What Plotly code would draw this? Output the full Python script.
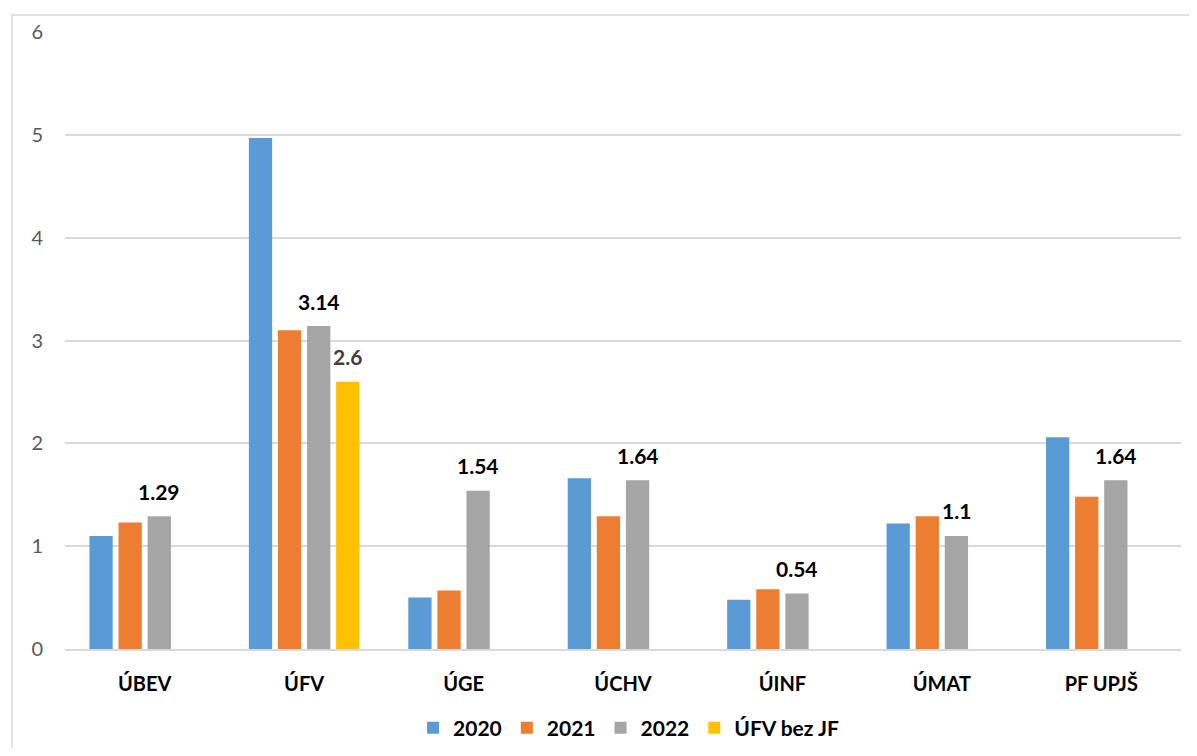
import plotly.graph_objects as go

categories = ["ÚBEV", "ÚFV", "ÚGE", "ÚCHV", "ÚINF", "ÚMAT", "PF UPJŠ"]
v2020 = [1.10, 4.97, 0.50, 1.66, 0.48, 1.22, 2.06]
v2021 = [1.23, 3.10, 0.57, 1.29, 0.58, 1.29, 1.48]
v2022 = [1.29, 3.14, 1.54, 1.64, 0.54, 1.10, 1.64]
vjf = [None, 2.6, None, None, None, None, None]

series = [
    ("2020", v2020, "#5b9bd5"),
    ("2021", v2021, "#ed7d31"),
    ("2022", v2022, "#a5a5a5"),
    ("ÚFV bez JF", vjf, "#ffc000"),
]
labelled = {"2022": "#000000", "ÚFV bez JF": "#404040"}

FONT = "Lato"
BARGAP = 0.27
fig = go.Figure()
for name, vals, col in series:
    fig.add_trace(go.Bar(name=name, x=categories, y=vals, marker=dict(color=col, line=dict(width=0))))

n = len(series)
slot = (1 - BARGAP) / n
annotations = []
for si, (name, vals, col) in enumerate(series):
    if name not in labelled:
        continue
    off = -(1 - BARGAP) / 2 + (si + 0.5) * slot
    for ci, v in enumerate(vals):
        if v is None:
            continue
        annotations.append(dict(
            x=ci + off, y=v, xref="x", yref="y", text=f"{v:g}", showarrow=False,
            yanchor="middle", yshift=25,
            font=dict(family=FONT, size=21, color=labelled[name], weight="bold"),
        ))

fig.update_layout(
    width=1181, height=740,
    margin=dict(l=57, r=8, t=24, b=99),
    paper_bgcolor="white", plot_bgcolor="white",
    barmode="group", bargap=BARGAP, bargroupgap=0.2,
    font=dict(family=FONT),
    annotations=annotations,
    legend=dict(
        orientation="h", x=0.505, xanchor="center",
        yref="container", y=0.027, yanchor="middle",
        font=dict(family=FONT, size=21, color="#000000", weight="bold"),
        itemwidth=30, traceorder="normal",
    ),
    shapes=[dict(type="rect", xref="paper", yref="paper",
                 x0=-0.0475, x1=1.05, y0=-0.4, y1=1.0276,
                 line=dict(color="#d9d9d9", width=1.5), layer="below")],
)
fig.update_xaxes(
    type="category", showgrid=False, showline=True, linecolor="#d9d9d9", linewidth=1.5,
    ticks="", tickfont=dict(family=FONT, size=20, color="#000000", weight="bold"),
    ticklabelstandoff=16, automargin=False,
)
fig.update_yaxes(
    range=[0, 6], dtick=1, showgrid=True, gridcolor="#d9d9d9", gridwidth=1.5,
    zeroline=False, showline=False, ticks="",
    tickfont=dict(family=FONT, size=20, color="#595959"),
    ticklabelstandoff=21, automargin=False,
)
fig.write_html("out.html")
